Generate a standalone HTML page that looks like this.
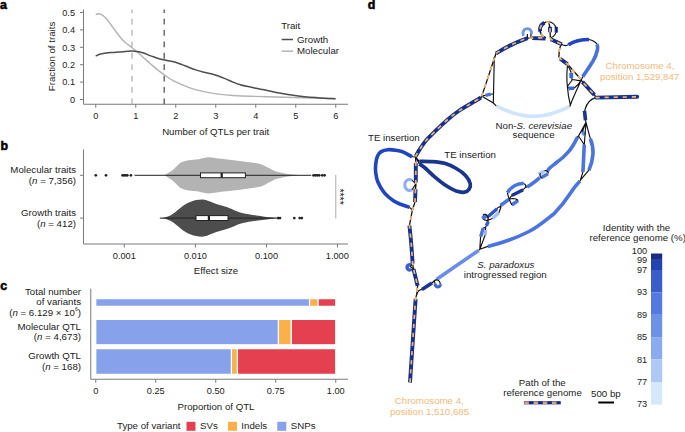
<!DOCTYPE html>
<html><head><meta charset="utf-8">
<style>
html,body{margin:0;padding:0;background:#fff;width:685px;height:432px;overflow:hidden}
svg{display:block}
text{font-family:"Liberation Sans",sans-serif;fill:#1c1a1b}
.t9{font-size:9.7px}
.tk{font-size:9.2px}
.lbl{font-size:12.4px;font-weight:bold;fill:#000;stroke:#000;stroke-width:0.55px}
.ax{stroke:#7a7a7a;stroke-width:1;fill:none}
.or{fill:#f7b56f}
</style></head>
<body>
<svg width="685" height="432" viewBox="0 0 685 432">
<!-- ============ PANEL A ============ -->
<text class="lbl" x="0" y="8.7">a</text>
<g class="ax">
<path d="M83.5 9.5V104.25H348"/>
<path d="M80 12.5h3.5M80 29.9h3.5M80 47.3h3.5M80 64.7h3.5M80 82.1h3.5M80 99.5h3.5"/>
<path d="M95.75 104.25v3.5M135.75 104.25v3.5M175.75 104.25v3.5M215.75 104.25v3.5M255.75 104.25v3.5M295.75 104.25v3.5M335.75 104.25v3.5"/>
</g>
<g class="tk" text-anchor="end">
<text x="75" y="15.7">0.5</text><text x="75" y="33.1">0.4</text><text x="75" y="50.5">0.3</text>
<text x="75" y="67.9">0.2</text><text x="75" y="85.3">0.1</text><text x="75" y="102.7">0</text>
</g>
<g class="tk" text-anchor="middle">
<text x="95.75" y="118.9">0</text><text x="135.75" y="118.9">1</text><text x="175.75" y="118.9">2</text>
<text x="215.75" y="118.9">3</text><text x="255.75" y="118.9">4</text><text x="295.75" y="118.9">5</text><text x="335.75" y="118.9">6</text></g><g class="t9" text-anchor="middle">
<text x="215.7" y="135">Number of QTLs per trait</text>
<text transform="translate(54.5 56.5) rotate(-90)" x="0" y="0">Fraction of traits</text>
</g>
<path d="M132 104.25V9.6" stroke="#b3b3b3" stroke-width="1.3" stroke-dasharray="5.8 5.6" fill="none"/>
<path d="M164.2 104.25V9.6" stroke="#555" stroke-width="1.3" stroke-dasharray="5.8 5.6" fill="none"/>
<path d="M95.7 14.5 C96.2 14.4 97.8 13.6 98.9 13.7 C100.0 13.8 100.9 14.0 102.1 14.8 C103.3 15.6 104.7 16.8 106.2 18.5 C107.7 20.2 109.5 22.8 111.1 25.0 C112.7 27.2 114.3 29.3 115.9 31.5 C117.5 33.7 119.2 36.1 120.8 38.0 C122.4 39.9 123.7 41.2 125.6 42.8 C127.5 44.4 130.2 46.2 132.1 47.7 C134.0 49.2 135.1 50.1 137.0 51.7 C138.9 53.3 141.0 55.2 143.4 57.4 C145.8 59.6 148.8 62.4 151.5 64.7 C154.2 67.0 157.0 69.4 159.6 71.4 C162.2 73.5 164.8 75.3 167.3 77.0 C169.8 78.7 172.2 80.1 174.6 81.4 C177.0 82.7 179.5 83.7 181.9 84.7 C184.3 85.8 186.8 86.8 189.2 87.7 C191.6 88.6 194.1 89.2 196.5 89.9 C198.9 90.6 200.2 90.9 203.8 91.6 C207.5 92.3 213.5 93.4 218.4 94.1 C223.3 94.8 227.7 95.2 233.0 95.5 C238.3 95.8 242.8 96.0 250.0 96.2 C257.2 96.5 267.5 96.8 276.3 97.0 C285.1 97.2 294.9 97.5 302.6 97.7 C310.3 97.9 316.8 98.0 322.3 98.2 C327.8 98.4 333.3 98.7 335.5 98.8" stroke="#b3b3b3" stroke-width="1.4" fill="none" stroke-linejoin="round"/>
<path d="M95.7 56.1 C96.4 55.8 98.0 54.7 99.7 54.2 C101.5 53.7 103.8 53.2 106.2 52.9 C108.6 52.6 111.6 52.6 114.3 52.4 C117.0 52.2 119.7 51.9 122.4 51.7 C125.1 51.5 128.1 51.2 130.5 51.1 C132.9 51.0 134.8 51.1 137.0 51.4 C139.2 51.7 141.0 52.2 143.4 53.0 C145.8 53.8 148.7 55.1 151.5 56.1 C154.3 57.1 157.4 58.3 160.0 59.0 C162.6 59.7 164.6 60.0 167.0 60.5 C169.4 61.0 172.1 61.3 174.6 62.0 C177.1 62.7 179.5 63.7 181.9 64.6 C184.3 65.5 186.8 66.6 189.2 67.5 C191.6 68.4 194.1 69.3 196.5 70.1 C198.9 70.9 201.4 71.6 203.8 72.2 C206.2 72.8 208.7 73.2 211.1 73.8 C213.5 74.4 216.0 75.2 218.4 76.0 C220.8 76.8 223.3 77.9 225.7 78.9 C228.1 79.9 230.6 81.1 233.0 82.1 C235.4 83.1 237.8 84.0 240.3 84.7 C242.8 85.5 244.2 85.8 248.0 86.6 C251.8 87.4 258.4 88.6 263.1 89.6 C267.8 90.6 271.9 91.7 276.3 92.5 C280.7 93.3 285.0 94.0 289.4 94.7 C293.8 95.4 298.2 95.9 302.6 96.4 C307.0 96.9 311.3 97.3 315.7 97.6 C320.1 97.9 325.5 98.2 328.8 98.4 C332.1 98.6 334.4 98.7 335.5 98.8" stroke="#4d4d4d" stroke-width="1.5" fill="none" stroke-linejoin="round"/>
<!-- legend -->
<text class="t9" x="281.2" y="29.3">Trait</text>
<path d="M281.7 39.5h11.3" stroke="#4d4d4d" stroke-width="1.5"/>
<path d="M281.7 51.2h11.3" stroke="#b3b3b3" stroke-width="1.5"/>
<text class="t9" x="297" y="42.7">Growth</text>
<text class="t9" x="297" y="54.4">Molecular</text>

<!-- ============ PANEL B ============ -->
<text class="lbl" x="0.4" y="150.1">b</text>
<g class="ax">
<path d="M83.5 149.5V244H348"/>
<path d="M80 175.3h3.5M80 218.1h3.5"/>
<path d="M124.3 244v3.5M195.4 244v3.5M266.5 244v3.5M337.5 244v3.5"/>
</g>
<g class="t9" text-anchor="end">
<text x="76" y="173.2">Molecular traits</text>
<text x="76" y="184">(<tspan font-style="italic">n</tspan> = 7,356)</text>
<text x="76" y="216.2">Growth traits</text>
<text x="76" y="227">(<tspan font-style="italic">n</tspan> = 412)</text>
</g>
<g class="tk" text-anchor="middle">
<text x="124.3" y="258.7">0.001</text><text x="195.4" y="258.7">0.010</text><text x="266.5" y="258.7">0.100</text><text x="337.3" y="258.7">1.000</text></g><g class="t9" text-anchor="middle">
<text x="216" y="273.8">Effect size</text>
</g>
<!-- violins -->
<path d="M164.1 175.3 C167 174 169 172 172.3 170.4 C175 168 178 164.5 180.4 162.7 C183 161.5 185.5 160.6 188.6 160.2 C192 159.9 195 159.6 198.8 159.2 C202 158.4 205 157.3 209 157.2 C213 157.3 217 158.4 221.3 158.8 C228 159.6 235 160.2 241.7 161.2 C248 162 254 162.6 260.1 163.9 C264 165 267 167 270.4 168.8 C274 171 278 172.3 282.6 173.1 C286 173.9 289.5 174.3 292.8 174.5 L300 175.3 L292.8 176.1 C289.5 176.3 286 176.7 282.6 177.5 C278 178.3 274 179.6 270.4 181.8 C267 183.6 264 185.6 260.1 186.7 C254 188 248 188.6 241.7 189.4 C235 190.4 228 191 221.3 191.8 C217 192.2 213 193.3 209 193.4 C205 193.3 202 192.2 198.8 191.4 C195 191 192 190.7 188.6 190.4 C185.5 190 183 189.1 180.4 187.9 C178 186.1 175 182.6 172.3 180.2 C169 178.6 167 176.6 164.1 175.3Z" fill="#b3b3b3"/>
<path d="M159.8 218.1 C164 217.8 167 217 170.4 215.4 C174 213.5 177 210.5 180.7 207.7 C184 205 187 203 190.9 201.7 C194 200.4 198 199.5 202.1 199.5 C206 199.6 208.5 201 211.3 202.1 C214.5 203.4 218 204.8 221.5 205.6 C225 206.6 228.5 207.6 231.7 208.9 C235 210.5 238.5 212.2 242 213 C247 214 251 214.8 256.3 215.4 C262 216.2 267 217.1 272.6 217.5 L276.7 218.1 L272.6 218.7 C267 219.1 262 220 256.3 220.8 C251 221.4 247 222.2 242 223.2 C238.5 224 235 225.7 231.7 227.3 C228.5 228.6 225 229.6 221.5 230.6 C218 231.4 214.5 232.8 211.3 234.1 C208.5 235.2 206 236.6 202.1 236.7 C198 236.7 194 235.8 190.9 234.5 C187 233.2 184 231.2 180.7 228.5 C177 225.7 174 222.7 170.4 220.8 C167 219.2 164 218.4 159.8 218.1Z" fill="#4d4d4d"/>
<!-- whiskers -->
<path d="M134.5 175.3H311.3M159.8 218.1H277" stroke="#222" stroke-width="1"/>
<rect x="200.5" y="172.9" width="44.9" height="4.8" fill="#fff" stroke="#222" stroke-width="1"/>
<path d="M221.7 172.9v4.8" stroke="#222" stroke-width="2.2"/>
<rect x="196" y="215.6" width="32" height="4.9" fill="#fff" stroke="#222" stroke-width="1"/>
<path d="M208.9 215.6v4.9" stroke="#222" stroke-width="2.2"/>
<g fill="#222">
<circle cx="95.8" cy="175.3" r="1.35"/><circle cx="106" cy="175.3" r="1.35"/>
<circle cx="122.6" cy="175.3" r="1.35"/><circle cx="124.2" cy="175.3" r="1.35"/><circle cx="125.8" cy="175.3" r="1.35"/><circle cx="127.3" cy="175.3" r="1.35"/><circle cx="130.9" cy="175.3" r="1.35"/>
<circle cx="313.6" cy="175.3" r="1.35"/><circle cx="315.4" cy="175.3" r="1.35"/><circle cx="317.2" cy="175.3" r="1.35"/><circle cx="319.2" cy="175.3" r="1.35"/>
<circle cx="322.2" cy="175.3" r="1.35"/><circle cx="324.6" cy="175.3" r="1.35"/>
<circle cx="278.2" cy="218.1" r="1.35"/><circle cx="280" cy="218.1" r="1.35"/>
<circle cx="294.3" cy="218.1" r="1.35"/><circle cx="299.7" cy="218.1" r="1.35"/><circle cx="301.8" cy="218.1" r="1.35"/>
</g>
<path d="M335.8 175V218.3" stroke="#aaa" stroke-width="1"/>
<text transform="translate(335.6 196.6) rotate(90)" text-anchor="middle" style="font-size:10.5px">****</text>

<!-- ============ PANEL C ============ -->
<text class="lbl" x="0.2" y="289.8">c</text>
<g class="ax">
<path d="M90.75 288.75V379.25H348"/>
<path d="M95.75 379.25v3.5M155.75 379.25v3.5M215.75 379.25v3.5M275.75 379.25v3.5M335.75 379.25v3.5"/>
</g>
<g stroke="#fff" stroke-width="1.2">
<rect x="95.75" y="298.65" width="213.8" height="7.7" fill="#87a1ea"/>
<rect x="309.55" y="298.65" width="8.6" height="7.7" fill="#fbb04a"/>
<rect x="318.15" y="298.65" width="17.6" height="7.7" fill="#e5404f"/>
<rect x="95.75" y="319.4" width="182.7" height="25.4" fill="#87a1ea"/>
<rect x="278.45" y="319.4" width="12.9" height="25.4" fill="#fbb04a"/>
<rect x="291.35" y="319.4" width="44.4" height="25.4" fill="#e5404f"/>
<rect x="95.75" y="348.65" width="135.7" height="25.7" fill="#87a1ea"/>
<rect x="231.45" y="348.65" width="6" height="25.7" fill="#fbb04a"/>
<rect x="237.45" y="348.65" width="98.3" height="25.7" fill="#e5404f"/>
</g>
<g class="t9" text-anchor="end">
<text x="81" y="294.7">Total number</text>
<text x="81" y="305.3">of variants</text>
<text x="81" y="315.8">(<tspan font-style="italic">n</tspan> = 6.129 × 10<tspan font-size="5.2" dy="-4.6">6</tspan><tspan dy="4.6">)</tspan></text>
<text x="81" y="330.2">Molecular QTL</text>
<text x="81" y="339.7">(<tspan font-style="italic">n</tspan> = 4,673)</text>
<text x="81" y="359.4">Growth QTL</text>
<text x="81" y="369.6">(<tspan font-style="italic">n</tspan> = 168)</text>
</g>
<g class="tk" text-anchor="middle">
<text x="95.75" y="393.7">0</text><text x="155.75" y="393.7">0.25</text><text x="215.75" y="393.7">0.50</text><text x="275.75" y="393.7">0.75</text><text x="335.75" y="393.7">1.00</text></g><g class="t9" text-anchor="middle">
<text x="216" y="410.2">Proportion of QTL</text>
</g>
<text class="t9" x="117" y="429.4">Type of variant</text>
<rect x="186.5" y="421.8" width="9" height="9" fill="#e5404f"/>
<text class="t9" x="200" y="429.4">SVs</text>
<rect x="228" y="421.8" width="9" height="9" fill="#fbb04a"/>
<text class="t9" x="241.3" y="429.4">Indels</text>
<rect x="277.3" y="421.8" width="9" height="9" fill="#87a1ea"/>
<text class="t9" x="290.8" y="429.4">SNPs</text>

<!-- ============ PANEL D ============ -->
<text class="lbl" x="367.8" y="9">d</text>

<!-- graph -->
<g fill="none" stroke-linecap="butt" stroke-linejoin="round">
<!-- colored edges -->
<g stroke-width="3.6">
<!-- non-S. cerevisiae arc -->
<path d="M496.2 105.8 C507 111.5, 520 116.4, 533.5 116.4 C546 116.4, 558 112.5, 569.8 106.4" stroke="#d0e5fb"/>
<!-- left TE loop C99 -->
<path d="M412.0 156.8 C410.7 156.1 406.4 153.4 404.0 152.3 C401.6 151.2 400.1 150.9 397.4 150.5 C394.7 150.1 390.7 149.5 388.0 149.7 C385.3 149.9 383.0 150.5 381.2 151.6 C379.4 152.7 378.3 154.1 377.4 156.2 C376.5 158.3 376.0 161.7 375.7 164.4 C375.4 167.1 375.3 169.5 375.7 172.5 C376.1 175.5 376.5 178.9 378.0 182.3 C379.5 185.8 381.9 190.0 384.6 193.2 C387.3 196.4 391.3 199.4 394.2 201.3 C397.1 203.2 399.4 203.8 402.0 204.8 C404.6 205.8 408.3 207.0 409.6 207.4" stroke="#2045c0"/>
<!-- right TE loop C100 -->
<path d="M419.3 161.3 C421.4 161.4 427.8 161.3 432.0 161.6 C436.2 161.9 440.6 162.2 444.7 163.3 C448.8 164.5 452.8 166.5 456.3 168.5 C459.8 170.5 463.2 173.0 465.5 175.5 C467.8 178.0 469.6 181.3 470.2 183.6 C470.8 185.9 470.0 188.0 469.0 189.4 C468.0 190.8 466.5 191.9 464.4 192.2 C462.3 192.5 459.6 192.3 456.3 191.1 C453.0 189.8 448.6 187.3 444.7 184.7 C440.8 182.1 436.5 178.4 433.1 175.5 C429.7 172.6 426.8 169.4 424.5 167.5 C422.2 165.6 420.2 164.5 419.3 163.9" stroke="#1a3590" stroke-width="3.7"/>
<!-- light C loop near TE -->
<path d="M412.2 180.3 C410.5 179.3, 408.5 179.3, 407 180.3 C405.3 181.6, 404.8 183.6, 404.8 185 C404.8 187, 405.6 189, 407.5 190 C409 190.6, 410.8 190.4, 412.2 189.6" stroke="#8eaff2" stroke-width="3"/>
<!-- small loop left of path at 267 -->
<path d="M411.3 265.3 C410.3 264.6, 409 264.6, 408.2 265.2 C407.2 266, 407 267.8, 407.6 268.9 C408.3 270, 409.9 270.3, 411.3 269.6" stroke="#3a60d0" stroke-width="3.4"/>
<!-- branch from bottom junction -->
<path d="M421.9 289.4 L432 283" stroke="#1a3590"/>
<path d="M435.2 283.6 C435 285.5, 436.3 287, 438 287 C439.5 286.9, 440.4 285.6, 440.2 284.2" stroke="#3a68dc" stroke-width="3.2"/>
<path d="M436.7 279.3 L478.6 250.4" stroke="#6a8ee8"/>
<!-- S. paradoxus arc from junction 480,248 to 581,179 -->
<path d="M487.9 246.4 C500 243.5, 515 238.5, 528 232 C540 226, 548 218, 554 213.7 C560 207.5, 565 201.5, 569.5 194.5 C573 189, 576.5 184.5, 580 181" stroke="#4a74e0"/>
<!-- upper diagonal chain -->
<path d="M483.3 228 L480.6 236.8" stroke="#4a74e0" stroke-width="3.4"/>
<path d="M485.6 230.1 L485.1 235.3" stroke="#9bb8f2" stroke-width="3.2"/>
<path d="M488.3 221.6 L486.3 225.8" stroke="#3a5dc9" stroke-width="3.4"/>
<path d="M483.6 217.3 L485.6 216.3" stroke="#4a74e0" stroke-width="4.2" stroke-linecap="round"/>
<path d="M492.5 218.5 L498.9 212.7" stroke="#a2c0f5" stroke-width="3.4"/>
<path d="M488.5 216.2 L497.1 208.7" stroke="#2d55c8" stroke-width="3.4"/>
<path d="M500.5 205.5 L509.2 199.2" stroke="#4a74e0"/>
<path d="M511.8 205 L518.1 200.5" stroke="#4a74e0" stroke-width="3.4"/>
<path d="M507.3 192.8 C509.5 189.5, 512 187, 515 185.5 C518 184, 521 183.3, 523.6 183.5" stroke="#4a74e0"/>
<path d="M511.8 195.4 L523.2 189.7" stroke="#1a3590" stroke-width="3.4"/>
<path d="M527 187.1 L530 185.2 C533 183.2, 536.5 180.5, 539.8 177.6" stroke="#4a74e0"/>
<path d="M541.5 177.5 L548 173.8" stroke="#4a74e0"/>
<path d="M538.6 174.6 L544.2 170.9" stroke="#a8c8f8"/>
<path d="M547.4 171.4 C547.7 171.0 547.5 170.2 549.0 168.8 C550.5 167.3 554.2 164.4 556.5 162.5 C558.8 160.6 560.7 159.4 562.8 157.5 C564.8 155.6 567.1 153.5 569.0 151.2 C570.9 149.0 572.6 146.1 574.0 143.8 C575.4 141.4 577.0 138.1 577.6 137.0" stroke="#4a74e0"/>
<!-- two vertical lanes right -->
<path d="M584.3 144.7 C583.8 153, 583.5 162, 582.9 172" stroke="#4a74e0"/>
<path d="M590.3 138.7 C592.5 144, 593.2 150, 593 154 C592.5 160, 591 165.5, 588.9 170.2" stroke="#4a74e0"/>
<path d="M582.1 130.8 L584.6 135" stroke="#6a8ee8" stroke-width="3.6"/>
<path d="M584.5 110.8 L585.5 120.2" stroke="#1a3590"/>
<!-- top area -->
<path d="M523.5 35.8 C522 32.5, 523.5 29, 526.9 28.6 C530.2 28.4, 532 31.2, 531.3 34.2" stroke="#6f93ea" stroke-width="2.8"/>
<path d="M568.5 44.8 C571 43, 574 41.5, 577.8 40.7 C581.5 39.9, 585.5 39.5, 589.1 39.5" stroke="#2045c0"/>
<path d="M596.9 44.2 C597.8 46, 597.9 48, 597.4 50 C596.5 54, 595 58, 592.8 61.5 C590 66, 586.5 71, 582.7 76.8" stroke="#4672e0"/>
<path d="M556.3 26.8 L556.3 32.6" stroke="#2e55c8" stroke-width="3.4"/>
<path d="M571.2 72.8 L571.3 78.3" stroke="#3a68dc" stroke-width="3.8"/>
<path d="M568.6 88.4 L574 88.2" stroke="#3a68dc" stroke-width="3.6"/>
<path d="M485.6 95.4 L490.8 94.2" stroke="#4a74e0" stroke-width="3.4"/>
</g>
<!-- black thin edges -->
<g stroke="#111" stroke-width="1.15">
<path d="M545.4 37.7 A8.2 8.2 0 0 1 548.2 21.8 A8.2 8.2 0 0 1 550.4 37.9"/>
<path d="M527.4 38 L527.4 34 M530.8 38 L531 34"/>
<path d="M561.7 44.2 C564 46, 566 46, 568.5 44.8"/>
<path d="M589.1 39.5 C591.5 39.8, 594 41.2, 595.5 42.5 C596.3 43.2, 596.8 43.8, 596.9 44.2"/>
<path d="M567.5 65.3 C566.8 72, 566.6 80, 567.4 86.5 C567.8 93, 568.8 99, 570.4 105 C572 100, 574 96, 575.3 93 C577.5 88, 579.5 84, 580.8 80.9 M567.5 65.3 C569 67.5, 570.5 70, 571.1 72.5 M571.3 78.5 L572.5 79.5 L580.8 80.9 M572.5 79.5 L567.4 86.5 L568.6 88.3 M574 88.3 C576.5 86.5, 579 84, 580.8 80.9 M580.8 80.9 L582.7 76.8"/>
<path d="M595.4 97.6 C590 99.5, 586.5 104, 585.2 109 L584.5 110.8"/>
<path d="M585.5 120.2 L586 122.4 L578.5 136 M586 122.4 L590.3 138.7 M586 122.4 L584.3 144.7 M578.5 136 L584.3 144.7 M582.3 131.5 L586 122.4"/>
<path d="M582.9 172 L580.4 180.2 L588.9 170.2 M580.4 180.2 L580 181"/>
<path d="M481.5 96 L485.6 95.4 M490.8 94.2 L493.5 93.8 M481.5 96 L493.3 103 L494.3 57 M493.3 103 L496.2 105.8"/>
<path d="M569.8 106.4 L570.4 105"/>
<path d="M478.6 250.4 L479.8 249.3 L480.6 236.8 M479.8 249.3 L485.1 235.3 M479.8 249.3 L487.9 246.4"/>
<path d="M483.3 228 L485.6 227.2 L485.6 230.1 M485.6 227.2 L486.3 225.8"/>
<path d="M488.3 221.6 L487.9 220.3 C486 220.6, 484 220.2, 483.4 219 M487.9 220.3 C488.3 217.8, 487.4 215.2, 485.4 214.4 C484.4 214, 483.5 214.4, 483.2 215.2 M487.9 220.3 L488.5 216.2 M487.9 220.3 L492.5 218.5"/>
<path d="M497.1 208.7 C497.8 206.8, 499.8 206.3, 500.8 207.8 L498.9 212.7 M500.8 207.8 L500.5 205.5"/>
<path d="M509.2 199.2 L507.3 192.8 M509.2 199.2 L511.8 195.4 M509.2 199.2 L511.8 205 M509.2 199.2 L512.5 198.5 C515 198.5, 517 199, 518.1 200.5"/>
<path d="M523.6 183.5 C525 184, 526 185.5, 525.8 187.1 L527 187.1 M523.2 189.7 L525.8 187.1"/>
<path d="M540.5 173.2 C539.5 175, 540 177.3, 542 178.3 M544.3 170.8 C546.5 170.2, 548.5 171.5, 548.3 173.5"/>
<path d="M577.3 137 L578.5 136"/>
<path d="M416.9 294 C417.5 291.5, 419.5 290, 421.9 289.4 M432 283 L434 281 C436 279.3, 439 279.5, 440 282.5 L440.2 284.2 M436.7 279.3 L434 281 M435.2 283.6 L434 281"/>
<path d="M412.6 263.5 L411.3 265.3 M413.5 269 L411.3 269.6 M412.6 263.5 L410.4 266.8 L413.5 269"/>
<path d="M412.2 180.3 L415.8 183.8 L412.2 189.6 M415.8 183.8 L415.5 189"/>
<path d="M415.6 157 L412 156.8 M415.6 157 L419.3 161.3 M415.6 157 L419.3 163.9 M409.6 207.4 L412.4 210"/>
</g>
<!-- ref black -->
<path d="M410 382.5 L415.6 298 L416.9 294 L417.6 285.7 L413.5 269 L412.6 263.5 C411.8 250, 410.8 237, 409.4 225.6 L412.4 210 L415 202 L415.5 189 L415.8 183 L415.8 163 L415.6 156.3 C416.4 155.0 418.7 150.9 420.5 148.2 C422.3 145.5 423.9 142.9 426.2 140.2 C428.5 137.5 430.8 135.5 434.3 132.1 C437.8 128.7 443.1 123.5 447.2 120.0 C451.2 116.5 454.0 114.1 458.6 111.0 C463.2 107.9 471.1 103.5 474.8 101.3 C478.5 99.0 480.0 98.1 481.0 97.5 L481.5 96.8 C486 84, 491 68, 495.5 55 L496 53.5 C505 47.5, 515 42.5, 527.7 38.1 L532.2 38.1 L545.4 37.7 A8.2 8.2 0 0 1 548.2 21.8 C549.4 24, 549.9 26, 549.9 28.5 L550.1 32.2 L550.4 37.9 L550.8 39.3 L561.7 44.2 C560 46.5, 559.5 48.5, 559.3 50.4 L558.9 56.9 L560.2 58.7 L567.6 64.3 L580.6 79 L582.4 81.9 L594.4 94.8 L596.3 97.6 L637.2 96.8" stroke="#111" stroke-width="1.3"/>
<!-- reference path navy bands -->
<g stroke="#15308e" stroke-width="3.9">
<path d="M415.6 299 L410 382.5"/>
<path d="M417.6 285.7 L413.5 269"/>
<path d="M412.6 263.5 C411.8 250, 410.8 237, 409.4 225.6"/>
<path d="M415 202 L415.5 189.2"/>
<path d="M415.8 182.5 L415.8 163.2"/>
<path d="M415.6 156.3 C416.4 155.0 418.7 150.9 420.5 148.2 C422.3 145.5 423.9 142.9 426.2 140.2 C428.5 137.5 430.8 135.5 434.3 132.1 C437.8 128.7 443.1 123.5 447.2 120.0 C451.2 116.5 454.0 114.1 458.6 111.0 C463.2 107.9 471.1 103.5 474.8 101.3 C478.5 99.0 480.0 98.1 481.0 97.5"/>
<path d="M496 53.5 C505 47.5, 515 42.5, 527.7 38.1"/>
<path d="M532.2 38.1 L545.5 38.5"/>
<path d="M540.1 31.4 A8.2 8.2 0 0 1 544.4 22.7"/>
<path d="M549.9 26.8 L550.1 32.2"/>
<path d="M550.8 39.3 L561.7 44.2"/>
<path d="M560.2 58.7 L567.6 64.3"/>
<path d="M582.4 81.9 L594.4 94.8"/>
<path d="M596.3 97.6 L637.2 96.8" stroke-linecap="round"/>
</g>
<!-- reference path line (black + orange dash) -->

<path d="M410 382.5 L415.6 298 L416.9 294 L417.6 285.7 L413.5 269 L412.6 263.5 C411.8 250, 410.8 237, 409.4 225.6 L412.4 210 L415 202 L415.5 189 L415.8 183 L415.8 163 L415.6 156.3 C416.4 155.0 418.7 150.9 420.5 148.2 C422.3 145.5 423.9 142.9 426.2 140.2 C428.5 137.5 430.8 135.5 434.3 132.1 C437.8 128.7 443.1 123.5 447.2 120.0 C451.2 116.5 454.0 114.1 458.6 111.0 C463.2 107.9 471.1 103.5 474.8 101.3 C478.5 99.0 480.0 98.1 481.0 97.5 L481.5 96.8 C486 84, 491 68, 495.5 55 L496 53.5 C505 47.5, 515 42.5, 527.7 38.1 L532.2 38.1 L545.4 37.7 A8.2 8.2 0 0 1 548.2 21.8 C549.4 24, 549.9 26, 549.9 28.5 L550.1 32.2 L550.4 37.9 L550.8 39.3 L561.7 44.2 C560 46.5, 559.5 48.5, 559.3 50.4 L558.9 56.9 L560.2 58.7 L567.6 64.3 L580.6 79 L582.4 81.9 L594.4 94.8 L596.3 97.6 L637.2 96.8" stroke="#f5b26c" stroke-width="1.7" stroke-dasharray="4.2 4.9"/>
</g>
<!-- labels -->
<g class="t9">
<text x="368" y="141.2">TE insertion</text>
<text x="444.3" y="157.6">TE insertion</text>
<text x="533.8" y="128.8" text-anchor="middle">Non-<tspan font-style="italic">S. cerevisiae</tspan></text>
<text x="533.6" y="138" text-anchor="middle">sequence</text>
<text x="477.3" y="267.8" font-style="italic">S. paradoxus</text>
<text x="463.8" y="277.7">introgressed region</text>
<text x="640" y="69.4" text-anchor="middle" style="fill:#f7b97a">Chromosome 4,</text>
<text x="639.6" y="80" text-anchor="middle" style="fill:#f7b97a">position 1,529,847</text>
<text x="429.3" y="403.9" text-anchor="middle" style="fill:#f7b97a">Chromosome 4,</text>
<text x="429.5" y="414.9" text-anchor="middle" style="fill:#f7b97a">position 1,510,685</text>
<text x="636.5" y="231.2" text-anchor="middle">Identity with the</text>
<text x="637.7" y="241.2" text-anchor="middle">reference genome (%)</text>
<text x="542.3" y="385.6" text-anchor="middle">Path of the</text>
<text x="542.5" y="396.1" text-anchor="middle">reference genome</text>
<text x="605.9" y="396.9" text-anchor="middle">500 bp</text>
</g>
<g class="tk" text-anchor="end">
<text x="647.2" y="254.4">100</text><text x="647.2" y="263.2">99</text><text x="647.2" y="272.7">97</text>
<text x="647.2" y="295.2">93</text><text x="647.2" y="317.7">89</text><text x="647.2" y="340.2">85</text>
<text x="647.2" y="362.7">81</text><text x="647.2" y="385.2">77</text><text x="647.2" y="406.9">73</text>
</g>
<!-- color bar -->
<rect x="651" y="253.5" width="11.2" height="5.5" fill="#1b2c7e"/>
<rect x="651" y="259" width="11.2" height="11" fill="#2244b0"/>
<rect x="651" y="270" width="11.2" height="22.3" fill="#3a5dc9"/>
<rect x="651" y="292.3" width="11.2" height="22.5" fill="#5578e1"/>
<rect x="651" y="314.8" width="11.2" height="22.3" fill="#6e91e8"/>
<rect x="651" y="337.1" width="11.2" height="22.4" fill="#8caaee"/>
<rect x="651" y="359.5" width="11.2" height="22.5" fill="#afc8f5"/>
<rect x="651" y="382" width="11.2" height="22.6" fill="#d7e8fc"/>
<!-- path legend -->
<path d="M523.9 402.75H560.8" stroke="#4a66c8" stroke-width="3.4"/>
<path d="M524.3 402.75H560.4" stroke="#13298a" stroke-width="2.6"/>
<path d="M524.3 402.75H560.4" stroke="#dba070" stroke-width="2.6" stroke-dasharray="4.6 4.6"/>
<path d="M598.3 402.5H614" stroke="#000" stroke-width="2"/>
</svg>
</body></html>
